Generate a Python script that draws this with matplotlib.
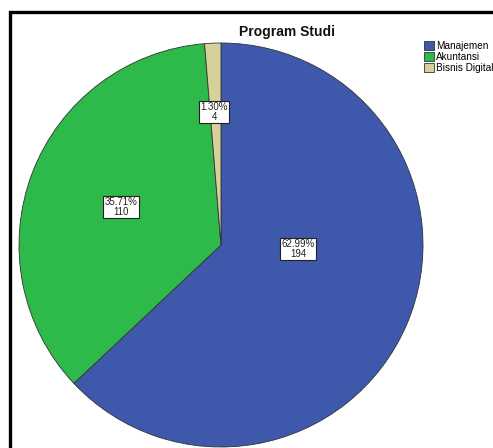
import matplotlib
matplotlib.use("Agg")
import matplotlib.pyplot as plt
from matplotlib.patches import Patch, Rectangle

# ---------- data ----------
categories = ["Manajemen", "Akuntansi", "Bisnis Digital"]
counts = [194, 110, 4]
percents = [62.99, 35.71, 1.30]
colors = ["#3e58ab", "#2eb94b", "#d6d09b"]

plt.rcParams["font.family"] = ["Liberation Sans", "DejaVu Sans"]

W, H = 493, 448
fig = plt.figure(figsize=(W / 100, H / 100), dpi=100)
ax = fig.add_axes([0, 0, 1, 1])

# pie, clockwise from 12 o'clock (y axis is inverted, so counterclock=True draws clockwise)
cx, cy, r = 221, 245, 202
wedges, _ = ax.pie(counts, colors=colors, startangle=-90, counterclock=True,
                   center=(cx, cy), radius=r, frame=True,
                   wedgeprops=dict(edgecolor="#333333", linewidth=0.6))
ax.set_xlim(0, W)
ax.set_ylim(H, 0)
ax.set_aspect("equal")
ax.axis("off")

# value boxes
label_pos = [(298, 249), (121, 207), (214, 112)]
for (x, y), p, n in zip(label_pos, percents, counts):
    ax.text(x, y, f"{p:.2f}%\n{n}", ha="center", va="center", fontsize=7,
            color="#222222", linespacing=0.95,
            bbox=dict(boxstyle="square,pad=0.12", fc="white", ec="#222222", lw=0.8))

# title
ax.text(287, 32, "Program Studi", ha="center", va="center", fontsize=10,
        fontweight="bold", color="#111111")

# legend
handles = [Patch(facecolor=c, edgecolor="#333333", linewidth=0.6, label=l)
           for c, l in zip(colors, categories)]
fig.legend(handles=handles, loc="upper left", bbox_to_anchor=(424 / W, 1 - 41 / H),
           frameon=False, fontsize=7.2, handlelength=0.95, handleheight=0.95,
           handletextpad=0.25, labelspacing=0.1, borderpad=0, borderaxespad=0)

# black frame (top and left visible)
fig.patches.append(Rectangle((9.5 / W, -0.1), 1.2, 1 - 11.5 / H + 0.1, transform=fig.transFigure,
                             fill=False, edgecolor="black", linewidth=2.4))

fig.savefig("out.png", dpi=100)
